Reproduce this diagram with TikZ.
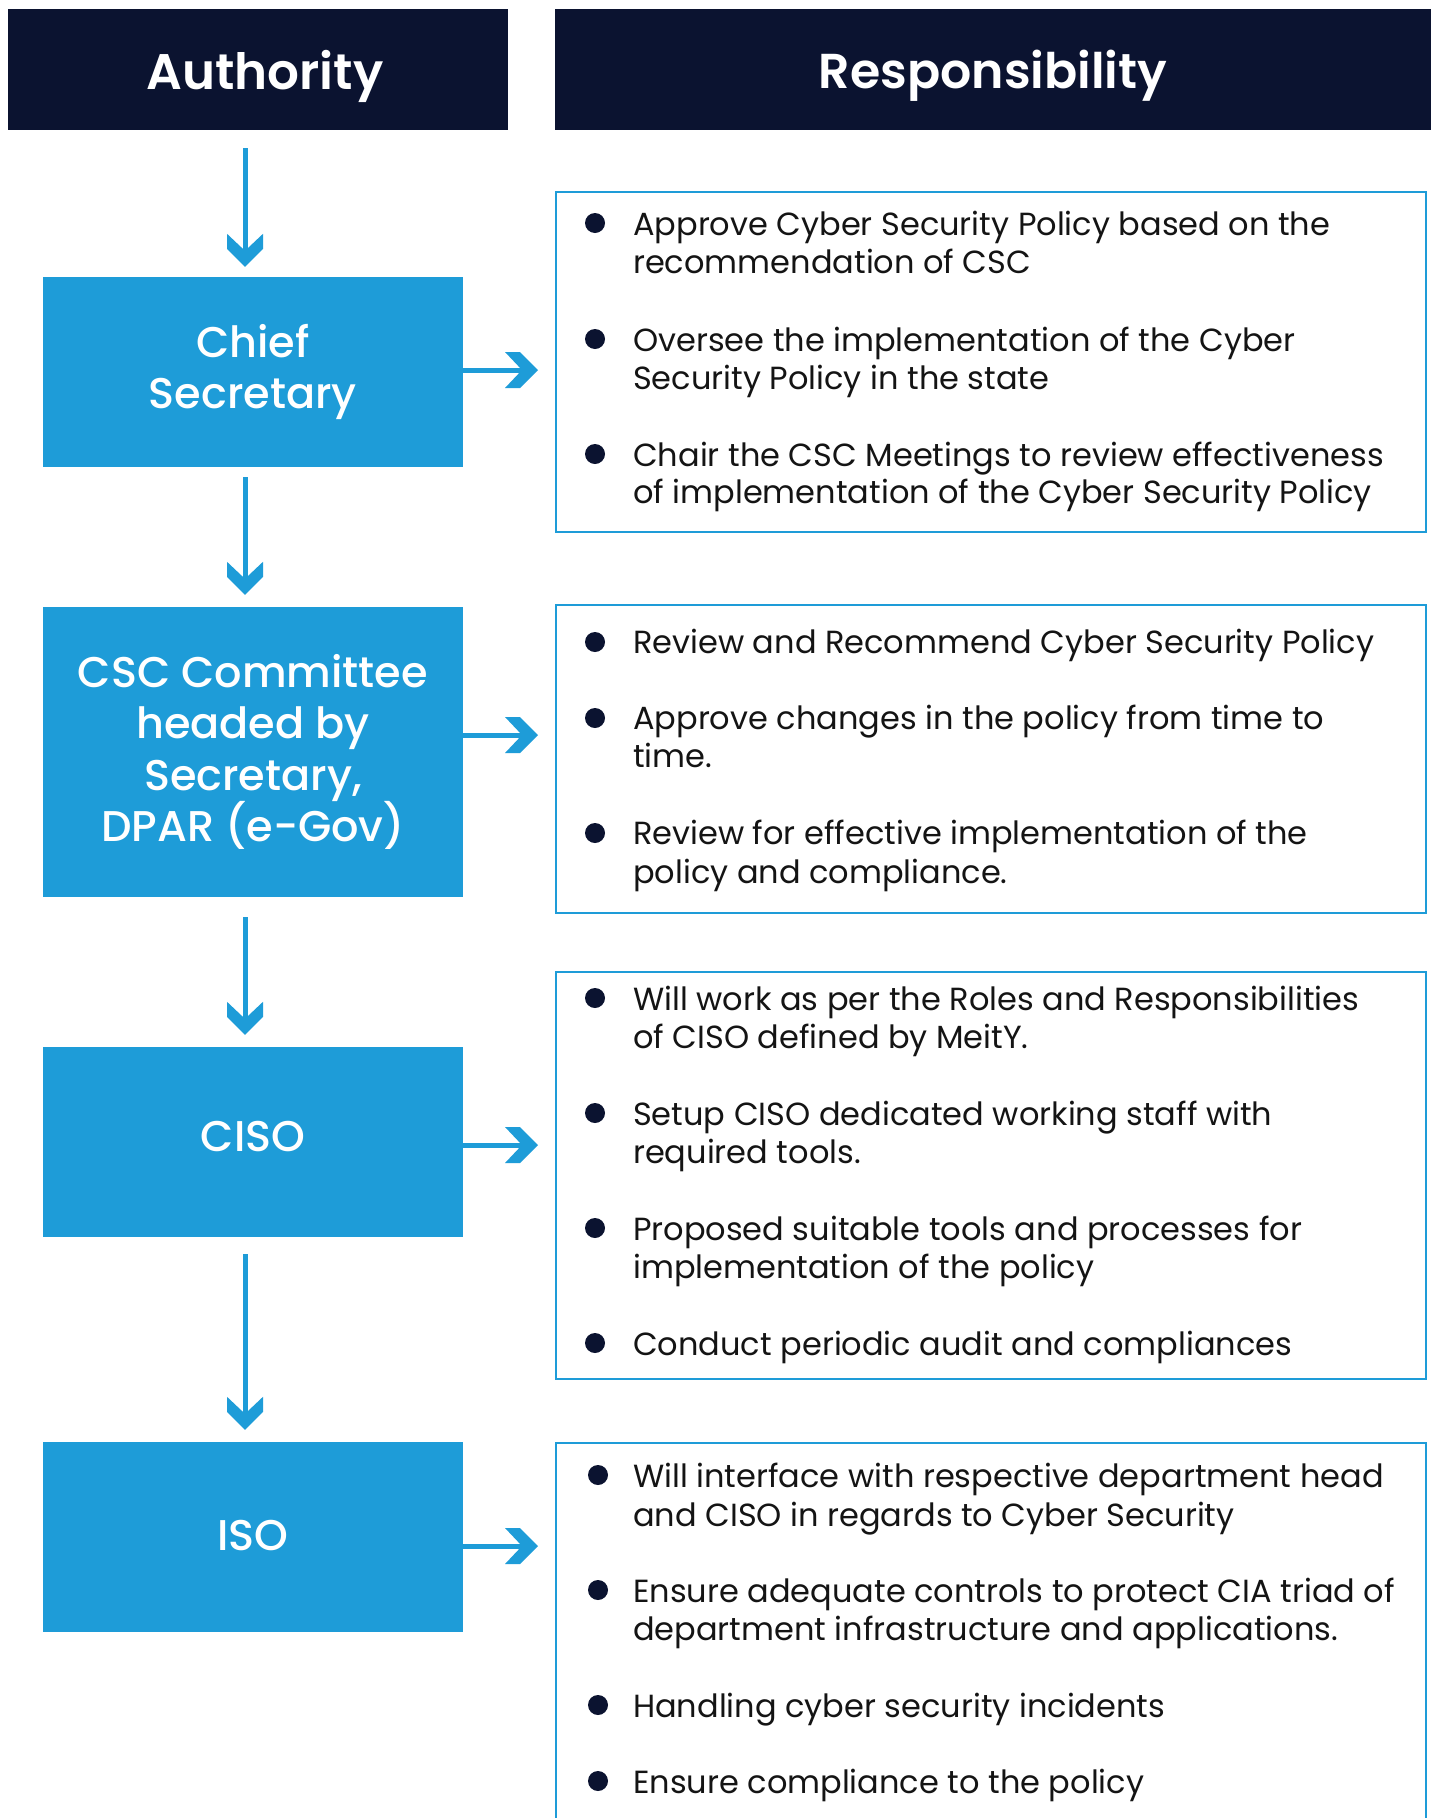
\documentclass[tikz,border=0pt]{standalone}
\usepackage{fontspec}
\setmainfont{Poppins}
\newfontfamily\medfont{Poppins Medium}
\newfontfamily\semifont{Poppins SemiBold}
\usetikzlibrary{calc}
\definecolor{navy}{RGB}{11,19,48}
\definecolor{accent}{RGB}{30,156,216}
\definecolor{ink}{RGB}{20,20,20}
\pgfdeclarearrow{
  name=Chev,
  setup code={
    \pgfarrowssettipend{0pt}
    \pgfarrowssetlineend{-16pt}
    \pgfarrowssetvisualbackend{-33pt}
    \pgfarrowssetbackend{-33pt}
  },
  drawing code={
    \pgfsetfillcolor{accent}
    \pgfpathmoveto{\pgfpoint{0pt}{0pt}}
    \pgfpathlineto{\pgfpoint{-18pt}{18pt}}
    \pgfpathlineto{\pgfpoint{-33pt}{18pt}}
    \pgfpathlineto{\pgfpoint{-16pt}{0pt}}
    \pgfpathlineto{\pgfpoint{-33pt}{-18pt}}
    \pgfpathlineto{\pgfpoint{-18pt}{-18pt}}
    \pgfpathclose
    \pgfusepathqfill
  }
}
\begin{document}
\begin{tikzpicture}[x=1pt,y=-1pt,
  hdr/.style={fill=navy, text=white, inner sep=0pt, minimum height=121pt, text depth=0pt, font=\semifont\fontsize{49}{58}\selectfont},
  lbox/.style={fill=accent, text=white, inner sep=0pt, minimum width=420pt, align=center, font=\medfont\fontsize{43}{51.5}\selectfont},
  rbox/.style={draw=accent, line width=2.4pt, anchor=north west, inner sep=0pt, minimum width=870pt},
  body/.style={anchor=base west, inner sep=0pt, text=ink, font=\fontsize{32}{38}\selectfont},
  dot/.style={circle, fill=navy, inner sep=0pt, minimum size=20pt},
  conn/.style={draw=accent, line width=5pt, -Chev}]
\useasboundingbox (0,0) rectangle (1437,1818);
\clip (0,0) rectangle (1437,1818);
\fill[white] (0,0) rectangle (1437,1818);

% headers
\node[hdr, minimum width=500pt] (auth) at (258,69.5) {\hspace*{14pt}\fontsize{50}{58}\selectfont Authority};
\node[hdr, minimum width=876pt] (resp) at (993,69.5) {Responsibility};

% authority boxes
\node[lbox, minimum height=190pt] (chief) at (253,372) {Chief\\Secretary};
\node[lbox, minimum height=290pt] (csc) at (253,752) {CSC Committee\\headed by\\Secretary,\\DPAR (e-Gov)};
\node[lbox, minimum height=190pt, text depth=12pt] (ciso) at (253,1142) {CISO};
\node[lbox, minimum height=190pt, text depth=4pt] (iso) at (253,1537) {ISO};

% responsibility boxes
\node[rbox, minimum height=340pt] (r1) at (555,191) {};
\node[rbox, minimum height=308pt] (r2) at (555,604) {};
\node[rbox, minimum height=407pt] (r3) at (555,971) {};
\node[rbox, minimum height=420pt] (r4) at (555,1442) {};

% vertical connectors
\draw[conn] ($(auth.south)+(-13,18)$) -- ($(chief.north)+(-8,-10)$);
\draw[conn] ($(chief.south)+(-8,10)$) -- ($(csc.north)+(-8,-12)$);
\draw[conn] ($(csc.south)+(-8,20)$) -- ($(ciso.north)+(-8,-12)$);
\draw[conn] ($(ciso.south)+(-8,17)$) -- ($(iso.north)+(-8,-12)$);

% horizontal connectors
\draw[conn] ($(chief.east)+(0,-2)$) -- ($(r1.west |- chief.east)+(-17,-2)$);
\draw[conn] ($(csc.east)+(0,-17)$) -- ($(r2.west |- csc.east)+(-17,-17)$);
\draw[conn] ($(ciso.east)+(0,3)$) -- ($(r3.west |- ciso.east)+(-17,3)$);
\draw[conn] ($(iso.east)+(0,9)$) -- ($(r4.west |- iso.east)+(-17,9)$);

% box 1
\node[dot] (d1a) at (595,223) {};
\node[body] (t1a) at (633,235) {Approve Cyber Security Policy based on the};
\node[body] (t1b) at (633,273) {recommendation of CSC};
\node[dot] (d1b) at (595,339) {};
\node[body] (t1c) at (633,351) {Oversee the implementation of the Cyber};
\node[body] (t1d) at (633,389) {Security Policy in the state};
\node[dot] (d1c) at (595,454) {};
\node[body] (t1e) at (633,466) {Chair the CSC Meetings to review effectiveness};
\node[body] (t1f) at (633,503) {of implementation of the Cyber Security Policy};

% box 2
\node[dot] (d2a) at (595,642) {};
\node[body] (t2a) at (633,653) {Review and Recommend Cyber Security Policy};
\node[dot] (d2b) at (595,718) {};
\node[body] (t2b) at (633,729) {Approve changes in the policy from time to};
\node[body] (t2c) at (633,767) {time.};
\node[dot] (d2c) at (595,833) {};
\node[body] (t2d) at (633,844) {Review for effective implementation of the};
\node[body] (t2e) at (633,883) {policy and compliance.};

% box 3
\node[dot] (d3a) at (595,998) {};
\node[body] (t3a) at (633,1010) {Will work as per the Roles and Responsibilities};
\node[body] (t3b) at (633,1048) {of CISO defined by MeitY.};
\node[dot] (d3b) at (595,1113) {};
\node[body] (t3c) at (633,1125) {Setup CISO dedicated working staff with};
\node[body] (t3d) at (633,1163) {required tools.};
\node[dot] (d3c) at (595,1228) {};
\node[body] (t3e) at (633,1240) {Proposed suitable tools and processes for};
\node[body] (t3f) at (633,1278) {implementation of the policy};
\node[dot] (d3d) at (595,1343) {};
\node[body] (t3g) at (633,1355) {Conduct periodic audit and compliances};

% box 4
\node[dot] (d4a) at (598,1475) {};
\node[body] (t4a) at (633,1487) {Will interface with respective department head};
\node[body] (t4b) at (633,1526) {and CISO in regards to Cyber Security};
\node[dot] (d4b) at (598,1590) {};
\node[body] (t4c) at (633,1602) {Ensure adequate controls to protect CIA triad of};
\node[body] (t4d) at (633,1640) {department infrastructure and applications.};
\node[dot] (d4c) at (598,1705) {};
\node[body] (t4e) at (633,1717) {Handling cyber security incidents};
\node[dot] (d4d) at (598,1781) {};
\node[body] (t4f) at (633,1793) {Ensure compliance to the policy};
\end{tikzpicture}
\end{document}
